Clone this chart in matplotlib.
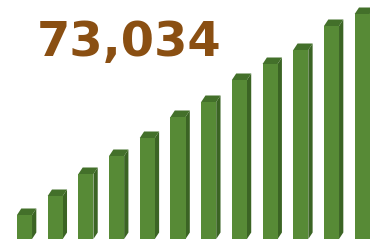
import matplotlib
matplotlib.use("Agg")
import matplotlib.pyplot as plt
from matplotlib.patches import Polygon

# Data
categories = list(range(1, 13))
values = [24, 43, 65, 83, 101, 122, 137, 159, 175, 189, 213, 225]
headline = "73,034"

front_color = "#578a36"
side_color = "#3b6424"
top_color = "#43702a"
text_color = "#8a4f12"

fig = plt.figure(figsize=(3.7, 2.44), dpi=100)
ax = fig.add_axes([0, 0, 1, 1])
ax.set_xlim(-0.798, 11.254)
ax.set_ylim(-5, 239)
ax.axis("off")

width = 0.49
dx = 0.14
dy = 6.5
xs = list(range(len(values)))
bars = ax.bar(xs, values, width=width, color=front_color, zorder=3, linewidth=0)
for b in bars:
    x0 = b.get_x()
    x1 = x0 + b.get_width()
    h = b.get_height()
    side = Polygon([(x1, 0), (x1, h), (x1 + dx, h + dy), (x1 + dx, dy)],
                   closed=True, facecolor=side_color, edgecolor="none", zorder=2)
    top = Polygon([(x0, h), (x1, h), (x1 + dx, h + dy), (x0 + dx, h + dy)],
                  closed=True, facecolor=top_color, edgecolor="none", zorder=2)
    ax.add_patch(side)
    ax.add_patch(top)

fig.text(37 / 370, 1 - 56 / 244, headline, color=text_color, fontsize=34.5,
         fontweight="bold", family=["DejaVu Sans"], ha="left", va="baseline")

fig.savefig("out.png", dpi=100, facecolor="white")
